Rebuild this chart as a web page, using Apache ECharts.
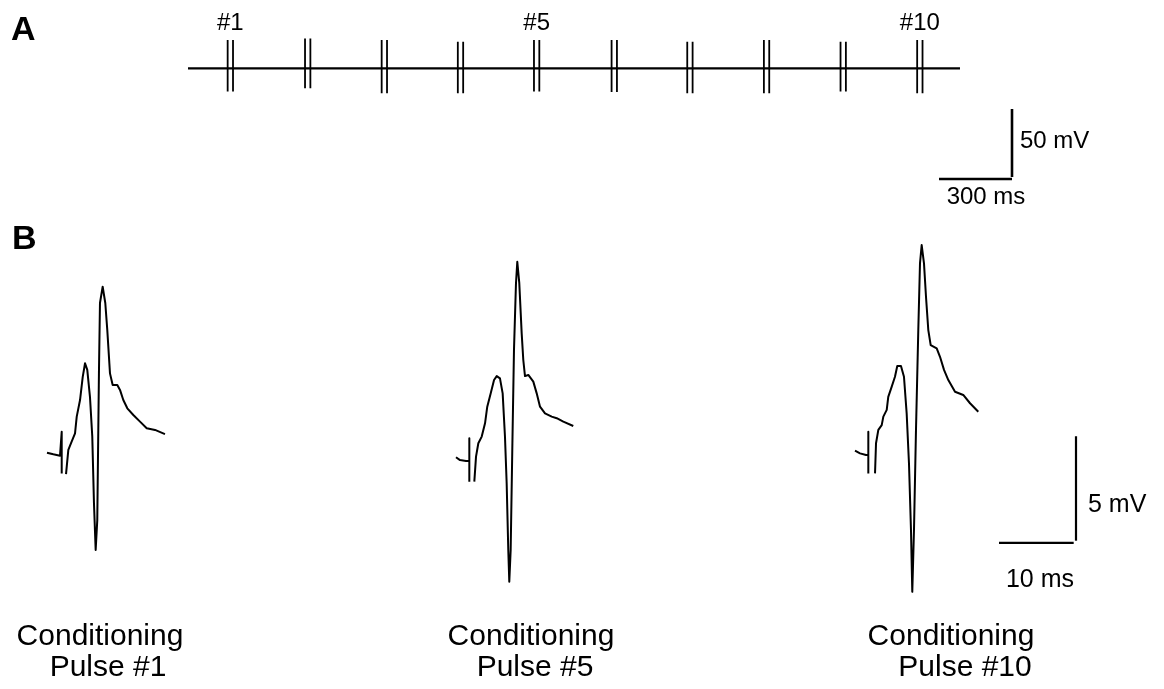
<!DOCTYPE html>
<html><head><meta charset="utf-8">
<script src="https://cdn.jsdelivr.net/npm/echarts@6/dist/echarts.min.js"></script>
<style>html,body{margin:0;padding:0;background:#fff}#c{width:1164px;height:689px}</style>
</head><body><div id="c"></div>
<script>
// ---------- DATA ----------
// Panel A: train of 10 conditioning pulses (ms, mV)
const pulseTimesMs = [163, 481, 796, 1109, 1422, 1741, 2052, 2367, 2682, 2997];
const pulsePairGapMs = 22;
const pulseUpMv = [20.8, 22.0, 20.8, 19.6, 20.8, 20.8, 19.6, 20.8, 19.6, 20.8];
const pulseDownMv = [-17.1, -14.6, -18.3, -18.3, -17.1, -17.4, -18.3, -18.3, -17.1, -18.3];
const pulseLabels = ['#1', '', '', '', '#5', '', '', '', '', '#10'];
const trainEndMs = 3173;
const scaleA = { ms: 300, mv: 50, msLabel: '300 ms', mvLabel: '50 mV' };

// Panel B: responses (time ms from trace start, mV)
const trace1Pre = [[0,0.1],[0.82,0.03],[1.69,-0.03],[1.91,-0.03],[1.91,1.01],[1.91,-0.8]];
const trace1Post = [[2.47,-0.83],[2.77,0.22],[3.2,0.58],[3.64,0.94],[3.86,1.67],[4.29,2.39],[4.64,3.4],[4.94,3.99],[5.23,3.7],[5.58,2.53],[5.88,0.8],[6.1,-2.1],[6.32,-4.13],[6.53,-2.83],[6.75,3.7],[6.88,6.61],[7.23,7.32],[7.57,6.61],[7.83,5.43],[8.18,3.55],[8.53,3.04],[9.13,3.04],[9.48,2.83],[9.91,2.39],[10.43,2.03],[11.21,1.74],[12.08,1.45],[12.95,1.16],[14.03,1.09],[15.32,0.91]];
const trace2Pre = [[0,-0.1],[0.52,-0.22],[1.3,-0.26],[1.73,-0.26],[1.73,0.73],[1.73,-1.16]];
const trace2Post = [[2.38,-1.16],[2.6,-0.07],[2.9,0.51],[3.34,0.8],[3.77,1.38],[4.06,2.1],[4.51,2.68],[4.94,3.26],[5.29,3.43],[5.71,3.33],[6.06,2.68],[6.36,0.8],[6.58,-1.23],[6.79,-4.13],[6.92,-5.51],[7.1,-4.13],[7.31,0.22],[7.53,4.57],[7.79,7.47],[7.96,8.4],[8.22,7.47],[8.53,5.29],[8.74,4.13],[8.96,3.43],[9.39,3.48],[10.04,3.19],[10.48,2.68],[10.91,2.1],[11.56,1.81],[12.43,1.67],[13.08,1.6],[13.94,1.45],[15.23,1.26]];
const trace3Pre = [[0,0.19],[0.65,0.07],[1.43,0],[1.73,0],[1.73,1.01],[1.73,-0.8]];
const trace3Post = [[2.6,-0.8],[2.73,0.51],[3.03,1.09],[3.47,1.3],[3.68,1.67],[4.12,1.96],[4.32,2.53],[4.77,2.97],[5.19,3.4],[5.49,3.87],[5.97,3.87],[6.36,3.4],[6.71,1.81],[7.01,-0.36],[7.27,-3.26],[7.44,-5.95],[7.66,-3.26],[7.92,1.09],[8.22,5.43],[8.44,8.33],[8.66,9.13],[8.96,8.33],[9.22,6.88],[9.52,5.43],[9.83,4.78],[10.61,4.64],[11.04,4.27],[11.56,3.7],[12.12,3.26],[12.99,2.75],[14.06,2.61],[14.94,2.25],[16.01,1.88]];
const traceTitles = ['Conditioning', 'Conditioning', 'Conditioning'];
const traceSubtitles = ['Pulse #1', 'Pulse #5', 'Pulse #10'];
const scaleB = { ms: 10, mv: 5, msLabel: '10 ms', mvLabel: '5 mV' };

// ---------- LAYOUT ----------
const A_PX_MS = 0.2433, A_PX_MV = 1.36;
const B_PX_MS = 7.7, B_PX_MV = 23;
const BX = [0, 18], BY = [-7, 11];
const AX = [0, 3300], AY = [-40, 40];
const FONT = '"Liberation Sans", Arial, Helvetica, sans-serif';
const INK = '#000';

function gridA(left, zeroY, xr, yr) {
  return { left: left, top: zeroY - yr[1] * A_PX_MV, width: (xr[1] - xr[0]) * A_PX_MS, height: (yr[1] - yr[0]) * A_PX_MV };
}
function gridB(left, zeroY, xr, yr) {
  return { left: left, top: zeroY - yr[1] * B_PX_MV, width: (xr[1] - xr[0]) * B_PX_MS, height: (yr[1] - yr[0]) * B_PX_MV };
}
const SAx = [-400, 100], SAy = [-10, 60];
const SBx = [-10, 8];

const grids = [
  gridA(188, 68.3, AX, AY),                       // 0 panel A train
  gridA(1012 - 400 * A_PX_MS, 177, SAx, SAy),     // 1 panel A scale bar
  gridB(47, 455, BX, BY),                         // 2 trace 1
  gridB(456, 455, BX, BY),                        // 3 trace 2
  gridB(855, 455, BX, BY),                        // 4 trace 3
  gridB(1076 - 10 * B_PX_MS, 566, SBx, BY)        // 5 panel B scale bar
];
const axRanges = [[AX, AY], [SAx, SAy], [BX, BY], [BX, BY], [BX, BY], [SBx, BY]];
const xAxes = axRanges.map((r, i) => ({ type: 'value', gridIndex: i, min: r[0][0], max: r[0][1], show: false }));
const yAxes = axRanges.map((r, i) => ({ type: 'value', gridIndex: i, min: r[1][0], max: r[1][1], show: false }));

// train baseline and pulse strokes
const baseline = [[0, 0], [trainEndMs, 0]];
const pulseData = [];
pulseTimesMs.forEach((p, i) => {
  [p, p + pulsePairGapMs].forEach(t => {
    pulseData.push([t, pulseUpMv[i]], [t, pulseDownMv[i]], [t, '-']);
  });
});
const labelData = [];
pulseTimesMs.forEach((p, i) => {
  if (pulseLabels[i]) labelData.push({ value: [p + pulsePairGapMs / 2, 33], name: pulseLabels[i] });
});

function lineSeries(data, gi, w) {
  return {
    type: 'line', xAxisIndex: gi, yAxisIndex: gi, data: data, symbol: 'none', showSymbol: false,
    clip: false, silent: true, animation: false, connectNulls: false,
    lineStyle: { color: INK, width: w, join: 'round', cap: 'butt' }
  };
}

const series = [
  lineSeries(baseline, 0, 2.2),
  lineSeries(pulseData, 0, 1.8),
  {
    type: 'scatter', xAxisIndex: 0, yAxisIndex: 0, data: labelData, symbolSize: 0,
    itemStyle: { color: INK }, silent: true, animation: false,
    label: { show: true, position: 'inside', formatter: p => p.name, color: INK, fontSize: 24,
             fontFamily: FONT, textBorderWidth: 0, opacity: 1 }
  },
  lineSeries([[-scaleA.ms, -1.5], [0, -1.5]], 1, 2.6),
  lineSeries([[0, 0], [0, scaleA.mv]], 1, 2.6),
  lineSeries(trace1Pre, 2, 2), lineSeries(trace1Post, 2, 2),
  lineSeries(trace2Pre, 3, 2), lineSeries(trace2Post, 3, 2),
  lineSeries(trace3Pre, 4, 2), lineSeries(trace3Post, 4, 2),
  lineSeries([[-scaleB.ms, 0], [-0.3, 0]], 5, 2.2),
  lineSeries([[0, 0.1], [0, scaleB.mv + 0.1]], 5, 2.2)
];

function txt(x, y, text, size, align, bold) {
  return {
    type: 'text', x: x, y: y, silent: true,
    style: { text: text, fill: INK, font: (bold ? 'bold ' : '') + size + 'px ' + FONT, textAlign: align, textVerticalAlign: 'middle' }
  };
}
const titleCenters = [100, 531, 951];
const subCenters = [108, 535, 965];
const graphics = [
  txt(11, 31, 'A', 34, 'left', true),
  txt(12, 240, 'B', 34, 'left', true),
  txt(1020, 141, scaleA.mvLabel, 24, 'left'),
  txt(986, 197, scaleA.msLabel, 24, 'center'),
  txt(1088, 505, scaleB.mvLabel, 25, 'left'),
  txt(1040, 580, scaleB.msLabel, 25, 'center')
];
traceTitles.forEach((t, i) => {
  graphics.push(txt(titleCenters[i], 637, t, 30, 'center'));
  graphics.push(txt(subCenters[i], 668, traceSubtitles[i], 30, 'center'));
});

const chart = echarts.init(document.getElementById('c'), null, { renderer: 'canvas' });
chart.setOption({
  backgroundColor: '#fff',
  animation: false,
  grid: grids,
  xAxis: xAxes,
  yAxis: yAxes,
  series: series,
  graphic: graphics
});
</script></body></html>
